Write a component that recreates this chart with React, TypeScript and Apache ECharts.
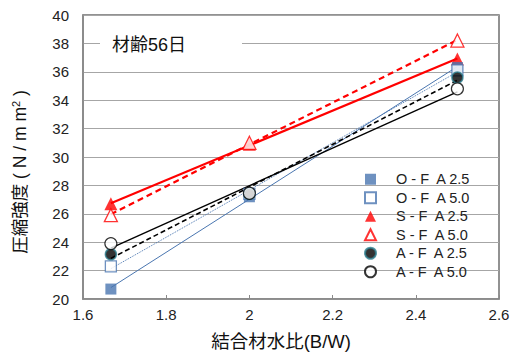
import React, { useEffect, useRef } from "react";
import * as echarts from "echarts";

const bw = [1.667, 2.0, 2.5];
const ofa25 = [20.7, 27.2, 36.3];
const ofa50 = [22.3, 27.4, 36.1];
const sfa25 = [26.7, 30.9, 36.9];
const sfa50 = [25.9, 31.0, 38.2];
const afa25 = [23.15, 27.4, 35.6];
const afa50 = [23.9, 27.45, 34.8];
const seriesNames = ["O - F  A 2.5", "O - F  A 5.0", "S - F  A 2.5", "S - F  A 5.0", "A - F  A 2.5", "A - F  A 5.0"];

const FONT = "'Liberation Sans', Arial, 'Noto Sans CJK JP', sans-serif";
const BLUE = "#4a76b0";
const RED = "#ff0000";

function trend(xs: number[], ys: number[]) {
  const n = xs.length;
  const mx = xs.reduce((a, b) => a + b, 0) / n;
  const my = ys.reduce((a, b) => a + b, 0) / n;
  let sxy = 0, sxx = 0;
  for (let i = 0; i < n; i++) {
    sxy += (xs[i] - mx) * (ys[i] - my);
    sxx += (xs[i] - mx) ** 2;
  }
  const k = sxy / sxx;
  const x0 = Math.min(...xs), x1 = Math.max(...xs);
  return [[x0, my + k * (x0 - mx)], [x1, my + k * (x1 - mx)]];
}

const pts = (ys: number[]) => bw.map((x, i) => [x, ys[i]]);

export default function App() {
  const ref = useRef<HTMLDivElement>(null);
  useEffect(() => {
    document.body.style.margin = "0";
    if (!ref.current) return;
    const chart = echarts.init(ref.current, null, { renderer: "svg" });
    const lineS = (data: number[][], color: string, width: number, type: any) => ({
      type: "line",
      data,
      symbol: "none",
      silent: true,
      z: 3,
      lineStyle: { color, width, type },
    });
    const scat = (name: string, ys: number[], symbol: string, size: number, style: any, z: number) => ({
      type: "scatter",
      name,
      data: pts(ys),
      symbol,
      symbolSize: size,
      itemStyle: style,
      z,
    });
    chart.setOption({
      animation: false,
      textStyle: { fontFamily: FONT },
      grid: {
        left: 83,
        right: 19,
        top: 15,
        bottom: 57,
        show: true,
        borderColor: "#6f6f6f",
        borderWidth: 1.5,
      },
      xAxis: {
        type: "value",
        min: 1.6,
        max: 2.6,
        interval: 0.2,
        axisLine: { show: true, onZero: false, lineStyle: { color: "#8a8a8a", width: 1.5 } },
        axisTick: { show: true, inside: true, length: 4, lineStyle: { color: "#8a8a8a" } },
        axisLabel: { color: "#222", fontSize: 15, margin: 8, fontFamily: FONT },
        splitLine: { show: false },
      },
      yAxis: {
        type: "value",
        min: 20,
        max: 40,
        interval: 2,
        axisLine: { show: true, lineStyle: { color: "#8a8a8a", width: 1.5 } },
        axisTick: { show: false },
        axisLabel: { color: "#222", fontSize: 15, margin: 14, fontFamily: FONT },
        splitLine: { show: true, lineStyle: { color: "#a6a6a6", width: 1.2 } },
      },
      legend: {
        orient: "vertical",
        left: 359,
        top: 167,
        itemWidth: 11,
        itemHeight: 11,
        itemGap: 4,
        data: seriesNames,
        textStyle: { fontSize: 14.5, color: "#222", fontFamily: FONT, padding: [0, 0, 0, 15] },
      },
      graphic: [
        { type: "rect", shape: { x: 100, y: 29, width: 142, height: 30 }, style: { fill: "#fff" }, z: 1 },
        {
          type: "text",
          x: 112,
          y: 45,
          style: { text: "材齢56日", fontSize: 18, fill: "#111", fontFamily: FONT, verticalAlign: "middle" },
          z: 2,
        },
        {
          type: "text",
          x: 281,
          y: 341,
          style: { text: "結合材水比(B/W)", fontSize: 18.5, fill: "#111", fontFamily: FONT, align: "center", verticalAlign: "middle" },
        },
        {
          type: "text",
          x: 20,
          y: 172,
          rotation: Math.PI / 2,
          style: {
            text: "圧縮強度 ( N / m m{sup|2} )",
            fontSize: 17.5,
            fill: "#111",
            fontFamily: FONT,
            align: "center",
            verticalAlign: "middle",
            rich: { sup: { fontSize: 11, verticalAlign: "top", padding: [0, 0, 8, 0], fill: "#111", fontFamily: FONT } },
          },
        },
      ],
      series: [
        lineS(trend(bw, ofa25), BLUE, 1, "solid"),
        lineS(trend(bw, ofa50), BLUE, 1, "dotted"),
        lineS(trend(bw, sfa25), RED, 2.2, "solid"),
        lineS(trend(bw, sfa50), RED, 2.2, [6, 4]),
        lineS(trend(bw, afa25), "#000", 1.6, [5, 3]),
        lineS(trend(bw, afa50), "#000", 1.4, "solid"),
        scat(seriesNames[0], ofa25, "rect", 11, { color: BLUE }, 5),
        scat(seriesNames[1], ofa50, "rect", 11, { color: "#fff", borderColor: BLUE, borderWidth: 1.3 }, 5),
        scat(seriesNames[2], sfa25, "triangle", 13, { color: RED }, 4),
        scat(seriesNames[3], sfa50, "triangle", 13, { color: "#fff", borderColor: RED, borderWidth: 1.3 }, 4),
        scat(seriesNames[4], afa25, "circle", 11, { color: "#000", borderColor: "#2e8090", borderWidth: 1.5 }, 6),
        scat(seriesNames[5], afa50, "circle", 12, { color: "#fff", borderColor: "#000", borderWidth: 1.2 }, 6),
      ],
    });
    return () => chart.dispose();
  }, []);
  return <div ref={ref} style={{ width: 518, height: 356 }} />;
}
